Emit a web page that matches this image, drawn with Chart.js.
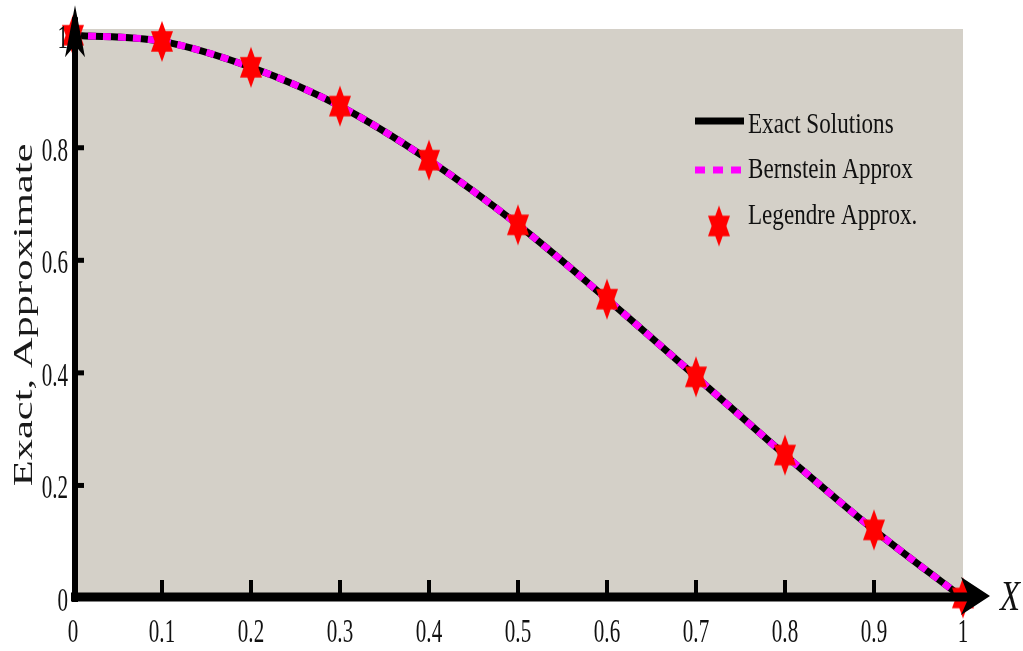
<!DOCTYPE html>
<html>
<head>
<meta charset="utf-8">
<script src="https://cdn.jsdelivr.net/npm/chart.js@4/dist/chart.umd.min.js"></script>
<style>
  html, body { margin: 0; padding: 0; background: #ffffff; }
  #wrap { width: 1023px; height: 651px; }
</style>
</head>
<body>
<div id="wrap"><canvas id="c" width="1023" height="651"></canvas></div>
<script>
// Sample points along X
const xValues = [0, 0.1, 0.2, 0.3, 0.4, 0.5, 0.6, 0.7, 0.8, 0.9, 1];
// Solution values at those points
const exactValues     = [1, 0.989, 0.943, 0.874, 0.778, 0.663, 0.531, 0.393, 0.254, 0.121, 0];
const bernsteinValues = [1, 0.989, 0.943, 0.874, 0.778, 0.663, 0.531, 0.393, 0.254, 0.121, 0];
const legendreValues  = [1, 0.989, 0.943, 0.874, 0.778, 0.663, 0.531, 0.393, 0.254, 0.121, 0];

// Axis ticks
const xTickValues = [0, 0.1, 0.2, 0.3, 0.4, 0.5, 0.6, 0.7, 0.8, 0.9, 1];
const xTickLabels = ['0', '0.1', '0.2', '0.3', '0.4', '0.5', '0.6', '0.7', '0.8', '0.9', '1'];
const yTickValues = [0, 0.2, 0.4, 0.6, 0.8, 1];
const yTickLabels = ['0', '0.2', '0.4', '0.6', '0.8', '1'];

// Texts
const seriesNames = ['Exact Solutions', 'Bernstein Approx', 'Legendre Approx.'];
const xAxisTitle = 'X';
const yAxisTitle = 'Exact, Approximate';

const toPoints = (xs, ys) => xs.map((x, i) => ({ x: x, y: ys[i] }));

// Six-pointed star marker, taller than wide
function makeHexagram(rx, ry, color) {
  const c = document.createElement('canvas');
  const w = Math.ceil(2 * rx * 0.866) + 2;
  const h = Math.ceil(2 * ry) + 2;
  c.width = w; c.height = h;
  const g = c.getContext('2d');
  const cx = w / 2, cy = h / 2, k = 0.866;
  g.fillStyle = color;
  g.beginPath();
  g.moveTo(cx, cy - ry);
  g.lineTo(cx + rx * k, cy + ry / 2);
  g.lineTo(cx - rx * k, cy + ry / 2);
  g.closePath();
  g.fill();
  g.beginPath();
  g.moveTo(cx, cy + ry);
  g.lineTo(cx + rx * k, cy - ry / 2);
  g.lineTo(cx - rx * k, cy - ry / 2);
  g.closePath();
  g.fill();
  return c;
}
const starMarker = makeHexagram(12.7, 20.5, '#ff0000');

const FONT = "'Liberation Serif', 'Times New Roman', serif";

function squeezedText(ctx, text, x, y, font, sx, align) {
  ctx.save();
  ctx.translate(x, y);
  ctx.scale(sx, 1);
  ctx.font = font;
  ctx.textAlign = align;
  ctx.textBaseline = 'alphabetic';
  ctx.fillText(text, 0, 0);
  ctx.restore();
}

const figurePlugin = {
  id: 'figure',
  beforeDatasetsDraw(chart) {
    const { ctx, chartArea: a } = chart;
    ctx.save();
    ctx.fillStyle = '#d4d0c8';
    ctx.fillRect(a.left, a.top, a.right - a.left, a.bottom - a.top);
    ctx.restore();
  },
  afterDatasetsDraw(chart) {
    const ctx = chart.ctx;
    const xs = chart.scales.x, ys = chart.scales.y;
    const X0 = xs.getPixelForValue(0), X1 = xs.getPixelForValue(1);
    const Y0 = ys.getPixelForValue(0), Y1 = ys.getPixelForValue(1);
    const ax = X0 + 2;   // vertical axis position
    const ay = Y0 - 1;   // horizontal axis position

    ctx.save();
    ctx.fillStyle = '#000';
    ctx.strokeStyle = '#000';

    // vertical axis with arrow
    ctx.lineWidth = 6;
    ctx.beginPath();
    ctx.moveTo(ax, ay + 5);
    ctx.lineTo(ax, Y1 - 18);
    ctx.stroke();
    ctx.beginPath();
    ctx.moveTo(ax, Y1 - 30);
    ctx.lineTo(ax + 10, Y1 + 22);
    ctx.lineTo(ax, Y1 + 10);
    ctx.lineTo(ax - 10, Y1 + 22);
    ctx.closePath();
    ctx.fill();

    // horizontal axis with arrow
    ctx.lineWidth = 9;
    ctx.beginPath();
    ctx.moveTo(X0 - 2, ay);
    ctx.lineTo(X1 + 12, ay);
    ctx.stroke();
    ctx.beginPath();
    ctx.moveTo(X1 + 27, ay - 1);
    ctx.lineTo(X1 - 2, ay - 20);
    ctx.lineTo(X1 + 6, ay);
    ctx.lineTo(X1 - 2, ay + 18);
    ctx.closePath();
    ctx.fill();

    // inward tick marks
    xTickValues.forEach(v => {
      if (v === 0 || v === 1) return;
      const px = xs.getPixelForValue(v);
      ctx.fillRect(px - 2, ay - 17, 4, 14);
    });
    yTickValues.forEach(v => {
      if (v === 0 || v === 1) return;
      const py = ys.getPixelForValue(v);
      ctx.fillRect(ax, py - 2.5, 9, 5);
    });

    // tick labels
    ctx.fillStyle = '#111';
    const tickFont = "34px " + FONT;
    xTickValues.forEach((v, i) => {
      squeezedText(ctx, xTickLabels[i], xs.getPixelForValue(v), 642, tickFont, 0.62, 'center');
    });
    yTickValues.forEach((v, i) => {
      squeezedText(ctx, yTickLabels[i], 68, ys.getPixelForValue(v) + 13, tickFont, 0.62, 'right');
    });

    // axis titles
    squeezedText(ctx, xAxisTitle, 1010, 610, "italic 42px " + FONT, 0.78, 'center');
    ctx.save();
    ctx.translate(32, 315);
    ctx.rotate(-Math.PI / 2);
    ctx.scale(1.52, 1);
    ctx.font = "28px " + FONT;
    ctx.textAlign = 'center';
    ctx.textBaseline = 'alphabetic';
    ctx.fillStyle = '#1a1a1a';
    ctx.fillText(yAxisTitle, 0, 0);
    ctx.restore();

    // legend
    const ds = chart.data.datasets;
    const lx0 = 695, lx1 = 744, tx = 748;
    const rows = [121, 170, 226];
    const bases = [133, 178, 224];
    // exact solution sample
    ctx.lineCap = 'butt';
    ctx.strokeStyle = ds[0].borderColor;
    ctx.lineWidth = 7;
    ctx.setLineDash([]);
    ctx.beginPath(); ctx.moveTo(lx0, rows[0]); ctx.lineTo(lx1, rows[0]); ctx.stroke();
    // bernstein sample
    ctx.strokeStyle = ds[1].borderColor;
    ctx.setLineDash([10, 8]);
    ctx.beginPath(); ctx.moveTo(lx0, rows[1]); ctx.lineTo(lx1, rows[1]); ctx.stroke();
    ctx.setLineDash([]);
    // legendre sample
    ctx.drawImage(starMarker, 719 - starMarker.width / 2, rows[2] - starMarker.height / 2);
    ctx.fillStyle = '#111';
    seriesNames.forEach((name, i) => {
      squeezedText(ctx, name, tx, bases[i], "30px " + FONT, 0.77, 'left');
    });

    ctx.restore();
  }
};

new Chart(document.getElementById('c'), {
  type: 'line',
  data: {
    datasets: [
      {
        label: seriesNames[0],
        data: toPoints(xValues, exactValues),
        borderColor: '#000000',
        borderWidth: 7,
        pointRadius: 0,
        cubicInterpolationMode: 'monotone',
        fill: false,
        clip: false,
        order: 2
      },
      {
        label: seriesNames[1],
        data: toPoints(xValues, bernsteinValues),
        borderColor: '#ff00ff',
        borderWidth: 7,
        borderDash: [8, 7],
        borderCapStyle: 'butt',
        pointRadius: 0,
        cubicInterpolationMode: 'monotone',
        fill: false,
        clip: false,
        order: 1
      },
      {
        label: seriesNames[2],
        data: toPoints(xValues, legendreValues),
        showLine: false,
        pointStyle: starMarker,
        pointRadius: 12,
        backgroundColor: '#ff0000',
        borderColor: '#ff0000',
        clip: false,
        order: 0
      }
    ]
  },
  options: {
    responsive: false,
    animation: false,
    events: [],
    layout: { padding: { left: 73, right: 60, top: 29, bottom: 53 } },
    plugins: { legend: { display: false }, tooltip: { enabled: false } },
    scales: {
      x: { type: 'linear', min: 0, max: 1, display: false },
      y: { type: 'linear', min: 0, max: 1.011, display: false }
    }
  },
  plugins: [figurePlugin]
});
</script>
</body>
</html>
